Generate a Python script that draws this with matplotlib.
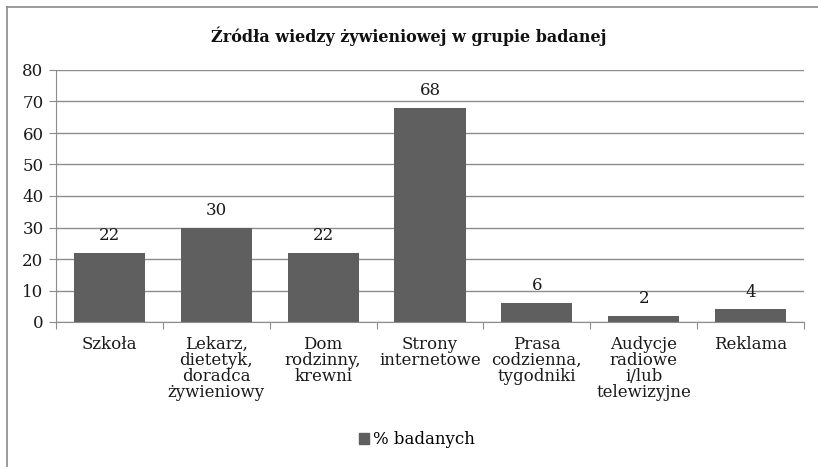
import matplotlib
matplotlib.use("Agg")
import matplotlib.pyplot as plt
from matplotlib.patches import Rectangle
from matplotlib.lines import Line2D

categories = [
    "Szkoła",
    "Lekarz,\ndietetyk,\ndoradca\nżywieniowy",
    "Dom\nrodzinny,\nkrewni",
    "Strony\ninternetowe",
    "Prasa\ncodzienna,\ntygodniki",
    "Audycje\nradiowe\ni/lub\ntelewizyjne",
    "Reklama",
]
values = [22, 30, 22, 68, 6, 2, 4]
series_name = "% badanych"
title = "Źródła wiedzy żywieniowej w grupie badanej"

bar_color = "#5f5f5f"
grid_color = "#8c8c8c"
text_color = "#1a1a1a"
fs = 12

plt.rcParams["font.family"] = "DejaVu Serif"

fig = plt.figure(figsize=(8.18, 4.67), dpi=100)
ax = fig.add_axes([56 / 818, 1 - 322 / 467, (804 - 56) / 818, (322 - 70) / 467])

x = list(range(len(categories)))
ax.bar(x, values, width=0.665, color=bar_color, zorder=3)

# value labels above the bars
for xi, v in zip(x, values):
    ax.text(xi, v + 2.8, str(v), ha="center", va="bottom", fontsize=fs, color=text_color, zorder=4)

ax.set_xlim(-0.5, len(categories) - 0.5)
ax.set_ylim(0, 80)
ax.set_yticks(range(0, 81, 10))
ax.yaxis.grid(True, color=grid_color, linewidth=1.0, zorder=0)
ax.tick_params(axis="y", length=5, color=grid_color, labelsize=fs, pad=4, labelcolor=text_color)

# category boundaries as x ticks, labels in the middle
ax.set_xticks([i - 0.5 for i in range(len(categories) + 1)])
ax.set_xticklabels([])
ax.set_xticks(x, minor=True)
ax.set_xticklabels(categories, minor=True, fontsize=fs, linespacing=0.92, color=text_color)
ax.tick_params(axis="x", which="major", length=5, color=grid_color)
ax.tick_params(axis="x", which="minor", length=0, pad=10)

for s in ["top", "right"]:
    ax.spines[s].set_visible(False)
ax.spines["left"].set_color(grid_color)
ax.spines["bottom"].set_color(grid_color)

fig.text(0.5, 1 - 36 / 467, title, ha="center", va="center", fontsize=11.5, fontweight="bold", color="#111111")

# outer chart frame (only top and left edges visible in the original crop)
fig.add_artist(Line2D([7 / 818, 7 / 818], [0, 1 - 7 / 467], transform=fig.transFigure, color="#8a8a8a", linewidth=1.2))
fig.add_artist(Line2D([7 / 818, 1], [1 - 7 / 467, 1 - 7 / 467], transform=fig.transFigure, color="#8a8a8a", linewidth=1.2))

handle = Rectangle((0, 0), 1, 1, color=bar_color)
fig.legend([handle], [series_name], loc="center", bbox_to_anchor=(417 / 818, 1 - 440 / 467),
           frameon=False, fontsize=fs, handlelength=0.6, handleheight=0.6, handletextpad=0.2)

fig.savefig("out.png", dpi=100)
